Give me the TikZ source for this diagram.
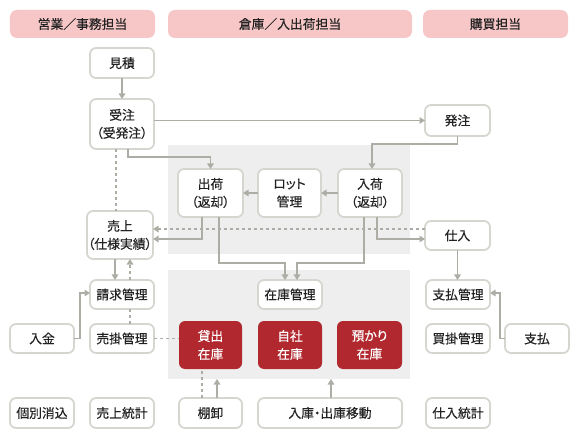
\documentclass[tikz,border=0pt]{standalone}
\usepackage{fontspec}
\setmainfont{Noto Sans CJK JP}[RawFeature=+palt, FakeBold=0.35]
\usetikzlibrary{arrows.meta}
\definecolor{hdr}{HTML}{F7C6C6}
\definecolor{bd}{HTML}{D6D6D0}
\definecolor{ln}{HTML}{ADADA5}
\definecolor{reg}{HTML}{EEEEEE}
\definecolor{stock}{HTML}{B1282F}
\definecolor{txt}{HTML}{222222}
\tikzset{
  box/.style={draw=bd, line width=1.8bp, fill=white, rounded corners=6bp, align=center,
    inner sep=0pt, outer sep=0pt, text=txt, font=\fontsize{12.8bp}{18bp}\selectfont,
    minimum width=64bp, minimum height=29bp},
  tall/.style={minimum height=48bp},
  redbox/.style={box, tall, draw=none, fill=stock, text=white},
  hdrbox/.style={fill=hdr, rounded corners=7bp, inner sep=0pt, outer sep=0pt, text=txt,
    font=\fontsize{12.8bp}{15bp}\selectfont, minimum height=28bp},
  region/.style={fill=reg, inner sep=0pt, outer sep=0pt, minimum width=242bp, minimum height=109bp},
  conn/.style={draw=ln, line width=1.5bp, -{Triangle[length=5.5bp,width=6.5bp]}},
  dconn/.style={conn, dash pattern=on 3bp off 3bp},
  dline/.style={draw=ln, line width=1.5bp, dash pattern=on 3bp off 3bp}
}
\begin{document}
\begin{tikzpicture}[x=1bp,y=-1bp]
\useasboundingbox (0,0) rectangle (578,440);
% headers
\node[hdrbox, minimum width=145bp] (h1) at (82.5,24) {営業／事務担当};
\node[hdrbox, minimum width=244bp] (h2) at (290,24) {倉庫／入出荷担当};
\node[hdrbox, minimum width=145bp] (h3) at (495.5,24) {購買担当};
% regions
\node[region] (region1) at (289,199.5) {};
\node[region] (region2) at (289,324.5) {};
% nodes
\node[box, minimum height=30bp] (mitsumori) at (122,63) {見積};
\node[box, minimum height=50bp] (jutyu) at (122,124) {受注\\（受発注）};
\node[box, minimum width=65bp, minimum height=31bp] (hattyu) at (457.5,120.5) {発注};
\node[box, tall, minimum width=65bp] (syukka) at (210.5,193) {出荷\\（返却）};
\node[box, tall, minimum width=63bp] (lot) at (289.5,193) {ロット\\管理};
\node[box, tall] (nyuka) at (370,193) {入荷\\（返却）};
\node[box, tall, minimum width=66bp] (uriage) at (120,235) {売上\\（仕様実績）};
\node[box, minimum width=65bp] (shiire) at (457.5,235.5) {仕入};
\node[box] (zaiko) at (290,294.5) {在庫管理};
\node[box] (seikyu) at (122,294.5) {請求管理};
\node[box] (nyukin) at (42,338.5) {入金};
\node[box] (urikake) at (122,338.5) {売掛管理};
\node[redbox, minimum width=63bp] (kashidashi) at (210.5,345) {貸出\\在庫};
\node[redbox] (jisha) at (290,345) {自社\\在庫};
\node[redbox, minimum width=65bp] (azukari) at (369.5,345) {預かり\\在庫};
\node[box] (shiharaikanri) at (458,294.5) {支払管理};
\node[box] (kaikake) at (458,338.5) {買掛管理};
\node[box] (shiharai) at (537,338.5) {支払};
\node[box, minimum height=30bp] (kobetsu) at (42,413) {個別消込};
\node[box, minimum height=30bp] (uriagetoukei) at (122,413) {売上統計};
\node[box, minimum height=30bp, minimum width=63bp] (tanaoroshi) at (210.5,413) {棚卸};
\node[box, minimum height=30bp, minimum width=144bp] (idou) at (330,413) {入庫・出庫移動};
\node[box, minimum height=30bp] (shiiretoukei) at (458,413) {仕入統計};
% connectors
\draw[conn] (mitsumori.south) -- (jutyu.north);
\draw[conn] (jutyu.east |- hattyu.west) -- (hattyu.west);
\draw[conn] ([xshift=6bp]jutyu.south) -- ++(0,8) -| (syukka.north);
\draw[dline] ([xshift=-6bp]jutyu.south) -- ([xshift=-6bp]jutyu.south |- uriage.north);
\draw[conn] (hattyu.south) -- ++(0,8) -| ([xshift=2bp]nyuka.north);
\draw[conn] (nyuka.west) -- (lot.east);
\draw[conn] (lot.west) -- (syukka.east);
\draw[conn] ([xshift=-8.5bp]syukka.south) |- ([yshift=-4bp]uriage.east);
\draw[dconn] ([yshift=6.5bp]shiire.west) -- ([yshift=6.5bp]shiire.west -| uriage.east);
\draw[conn] ([xshift=7bp]nyuka.south) |- ([yshift=-3.5bp]shiire.west);
\draw[conn] ([xshift=8.5bp]syukka.south) -- ++(0,46) -| ([xshift=-5bp]zaiko.north);
\draw[conn] ([xshift=-6bp]nyuka.south) -- ++(0,46) -| ([xshift=7bp]zaiko.north);
\draw[conn] (shiire.south) -- (shiire.south |- shiharaikanri.north);
\draw[conn] ([xshift=-5bp]uriage.south) -- ([xshift=-5bp]uriage.south |- seikyu.north);
\draw[dconn] ([xshift=8bp]seikyu.north) -- ([xshift=8bp]seikyu.north |- uriage.south);
\draw[dline] ([xshift=8bp]seikyu.south) -- ([xshift=8bp]urikake.north);
\draw[conn] (nyukin.east) -- ++(6,0) |- ([yshift=1.5bp]seikyu.west);
\draw[dline] (urikake.east) -- (urikake.east -| kashidashi.west);
\draw[dline] ([xshift=-8.5bp]tanaoroshi.north) -- ([xshift=-8.5bp]tanaoroshi.north |- kashidashi.south);
\draw[conn] ([xshift=6.5bp]tanaoroshi.north) -- ([xshift=6.5bp]tanaoroshi.north |- region2.south);
\draw[conn] ([xshift=1bp]idou.north) -- ([xshift=1bp]idou.north |- region2.south);
\draw[conn] (shiharai.west) -- ++(-5,0) |- ([yshift=1.5bp]shiharaikanri.east);
\end{tikzpicture}
\end{document}
